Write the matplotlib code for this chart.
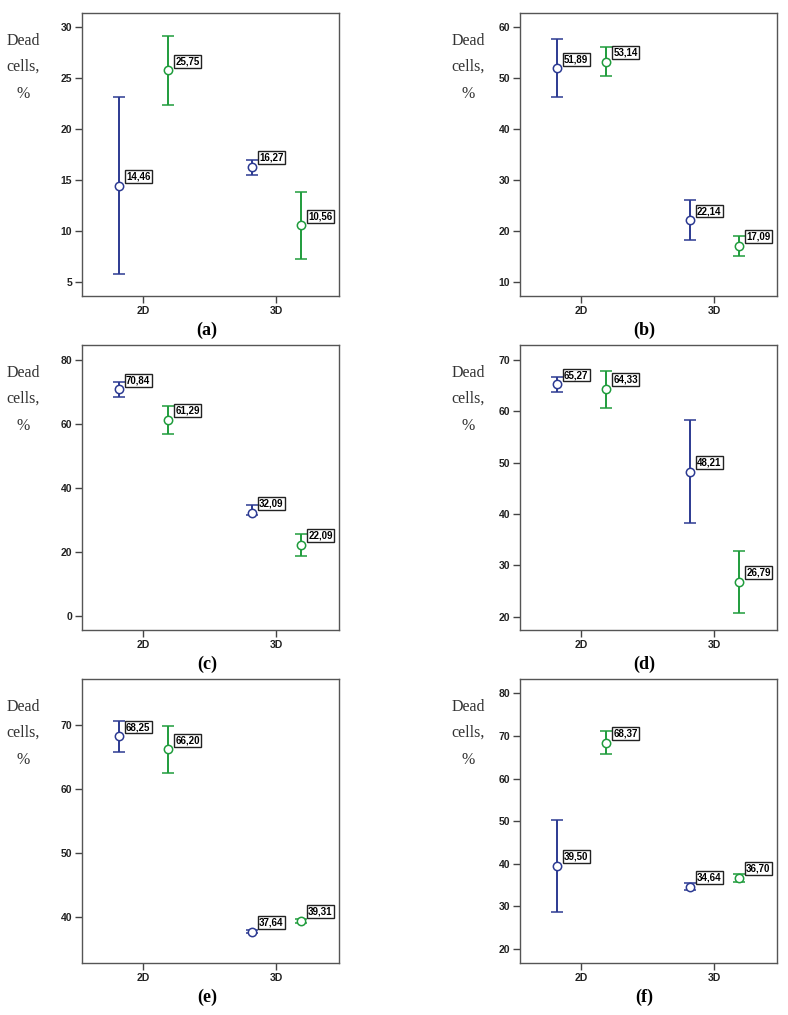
import matplotlib.pyplot as plt

# mean and 95% CI for each panel: [2D, 3D]
groups = ['2D', '3D']
panels = ['(a)', '(b)', '(c)', '(d)', '(e)', '(f)']

blue_mean = [[14.46, 16.27], [51.89, 22.14], [70.84, 32.09], [65.27, 48.21], [68.25, 37.64], [39.50, 34.64]]
blue_low = [[5.8, 15.5], [46.3, 18.3], [68.4, 31.5], [63.8, 38.2], [65.8, 37.4], [28.75, 33.8]]
blue_high = [[23.1, 17.0], [57.6, 26.1], [73.2, 34.5], [66.7, 58.3], [70.6, 37.9], [50.3, 35.4]]

green_mean = [[25.75, 10.56], [53.14, 17.09], [61.29, 22.09], [64.33, 26.79], [66.20, 39.31], [68.37, 36.70]]
green_low = [[22.4, 7.3], [50.3, 15.2], [56.8, 18.7], [60.7, 20.8], [62.5, 39.0], [65.7, 35.8]]
green_high = [[29.1, 13.8], [56.0, 19.0], [65.7, 25.6], [67.9, 32.8], [69.8, 39.6], [71.2, 37.7]]

yticks = [[5, 10, 15, 20, 25, 30], [10, 20, 30, 40, 50, 60], [0, 20, 40, 60, 80],
          [20, 30, 40, 50, 60, 70], [40, 50, 60, 70], [20, 30, 40, 50, 60, 70, 80]]
ylims = [(3.63, 31.37), (7.3, 62.7), (-4.5, 84.7), (17.4, 72.9), (32.75, 77.2), (16.7, 83.4)]

blue = '#2c3a92'
green = '#1f9c3c'

W, H = 788, 1015
fig = plt.figure(figsize=(W / 100, H / 100), dpi=100)

cols = [82, 520]
rows = [(13, 296), (345, 630), (679, 963)]

narrow = ['Liberation Sans Narrow', 'Liberation Sans', 'DejaVu Sans']
tick_font = dict(family=narrow, weight='bold', size=7.5)
serif = ['Liberation Serif', 'DejaVu Serif']

for i in range(6):
    r, c = divmod(i, 2)
    top, bot = rows[r]
    left = cols[c]
    ax = fig.add_axes([left / W, 1 - bot / H, 257 / W, (bot - top) / H])

    for means, lows, highs, col, dx in [
            (blue_mean[i], blue_low[i], blue_high[i], blue, -0.18),
            (green_mean[i], green_low[i], green_high[i], green, 0.19)]:
        xs = [j + dx for j in range(len(groups))]
        yerr = [[m - l for m, l in zip(means, lows)], [h - m for m, h in zip(means, highs)]]
        ax.errorbar(xs, means, yerr=yerr, fmt='o', mfc='white', mec=col, ecolor=col,
                    ms=6, mew=1.1, elinewidth=1.4, capsize=4.3, capthick=1.6)
        for x, m in zip(xs, means):
            ax.annotate(f'{m:.2f}'.replace('.', ','), (x, m), xytext=(5, 3),
                        textcoords='offset points', ha='left', va='bottom',
                        fontfamily=narrow, fontweight='bold', fontsize=7,
                        bbox=dict(boxstyle='square,pad=0.15', fc='white', ec='#222222', lw=1))

    ax.set_xlim(-0.459, 1.474)
    ax.set_ylim(*ylims[i])
    ax.set_xticks(range(len(groups)))
    ax.set_xticklabels(groups, **tick_font, color='#222222')
    ax.set_yticks(yticks[i])
    ax.set_yticklabels([str(t) for t in yticks[i]], **tick_font, color='#222222')
    ax.tick_params(length=5, width=1, color='#444444', pad=2)
    for s in ax.spines.values():
        s.set_color('#555555')
        s.set_linewidth(1)

    lx = 23 if c == 0 else 468
    for txt, yy in [('Dead', top + 28), ('cells,', top + 54), ('%', top + 81)]:
        fig.text(lx / W, 1 - yy / H, txt, ha='center', va='center', family=serif,
                 fontsize=11.5, color='#333333')

    px = 207 if c == 0 else 644
    fig.text(px / W, 1 - (bot + 34) / H, panels[i], ha='center', va='center',
             family=serif, fontsize=13, fontweight='bold')

fig.savefig('out.png', dpi=100)
